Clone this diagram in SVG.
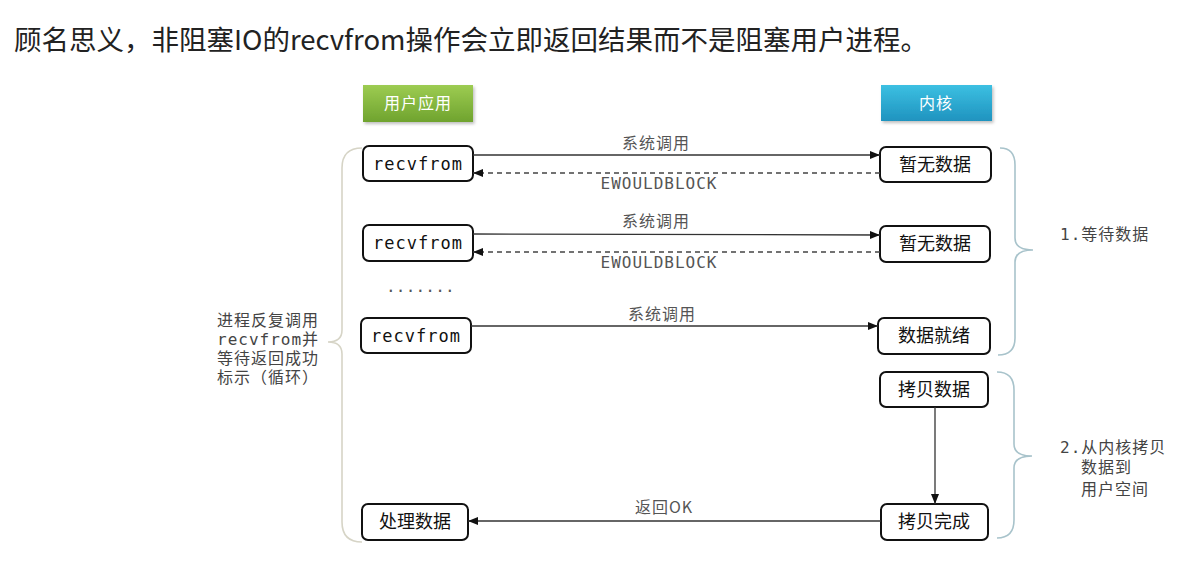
<svg xmlns="http://www.w3.org/2000/svg" width="1194" height="570" viewBox="0 0 1194 570">
<defs>
<linearGradient id="gGreen" x1="0" y1="0" x2="0" y2="1"><stop offset="0" stop-color="#9dcc52"/><stop offset="1" stop-color="#6fa32e"/></linearGradient>
<linearGradient id="gBlue" x1="0" y1="0" x2="0" y2="1"><stop offset="0" stop-color="#3cc0e2"/><stop offset="1" stop-color="#1f93bf"/></linearGradient>
<filter id="sh" x="-10%" y="-20%" width="125%" height="150%"><feDropShadow dx="1.5" dy="2" stdDeviation="1.5" flood-color="#000" flood-opacity="0.25"/></filter>
<marker id="ah" viewBox="0 0 10 10" refX="10" refY="5" markerWidth="10" markerHeight="10" markerUnits="userSpaceOnUse" orient="auto"><path d="M0,1 L10,5 L0,9 z" fill="#111"/></marker>
</defs>
<style>
.title{font-family:"Noto Sans CJK SC","Noto Sans",sans-serif;font-size:27.5px;fill:#222}
.hdr{font-family:"Noto Sans CJK SC",sans-serif;font-size:16px;fill:#fff;text-anchor:middle;letter-spacing:1px}
.box{fill:#fff;stroke:#111;stroke-width:2}
.mono{font-family:"DejaVu Sans Mono","Noto Sans CJK SC",monospace}
.cjk{font-family:"Noto Sans CJK SC",sans-serif}
.bt{font-size:18px;fill:#111;text-anchor:middle}
.rt{font-size:17px;fill:#111;text-anchor:middle;letter-spacing:1px}
.lbl{font-size:16px;fill:#555;text-anchor:middle;letter-spacing:1px}
.side{font-size:16px;fill:#444;letter-spacing:1px}
.ln{stroke:#333;stroke-width:1.3;fill:none}
.dash{stroke:#444;stroke-width:1.3;fill:none;stroke-dasharray:5 4}
.bl{stroke:#d6d4c6;stroke-width:1.6;fill:none}
.br{stroke:#a8c3cb;stroke-width:1.6;fill:none}
</style>
<rect width="1194" height="570" fill="#fff"/>
<text class="title" x="14" y="50">顾名思义，非阻塞IO的recvfrom操作会立即返回结果而不是阻塞用户进程。</text>

<g id="hdr-user"><rect x="363" y="85" width="110" height="37" fill="url(#gGreen)" filter="url(#sh)"/><text class="hdr" x="418" y="109">用户应用</text></g>
<g id="hdr-kernel"><rect x="881" y="85" width="111" height="36" fill="url(#gBlue)" filter="url(#sh)"/><text class="hdr" x="936" y="109">内核</text></g>

<g id="braces">
<path class="bl" d="M362,148 Q342,148 342,168 L342,330 Q342,342 328,342 Q342,342 342,354 L342,522 Q342,542 362,542"/>
<path class="br" d="M1000,148 Q1015,148 1015,165 L1015,238 Q1015,250 1033,250 Q1015,250 1015,262 L1015,338 Q1015,355 998,355"/>
<path class="br" d="M997,372 Q1014,372 1014,390 L1014,444 Q1014,456 1032,456 Q1014,456 1014,468 L1014,520 Q1014,538 997,538"/>
</g>

<g id="n-recv1"><rect class="box" x="363" y="146" width="110" height="35" rx="6"/><text class="mono rt" x="418" y="170">recvfrom</text></g>
<g id="n-recv2"><rect class="box" x="363" y="225" width="110" height="36" rx="6"/><text class="mono rt" x="418" y="249">recvfrom</text></g>
<g id="n-dots"><text class="mono" x="386" y="292" font-size="16" fill="#555" letter-spacing="0.2">.......</text></g>
<g id="n-recv3"><rect class="box" x="361" y="318" width="110" height="35" rx="6"/><text class="mono rt" x="416" y="342">recvfrom</text></g>
<g id="n-proc"><rect class="box" x="362" y="504" width="106" height="36" rx="6"/><text class="cjk bt" x="415" y="528">处理数据</text></g>

<g id="n-k1"><rect class="box" x="880" y="147" width="111" height="35" rx="6"/><text class="cjk bt" x="935" y="171">暂无数据</text></g>
<g id="n-k2"><rect class="box" x="880" y="226" width="110" height="36" rx="6"/><text class="cjk bt" x="935" y="250">暂无数据</text></g>
<g id="n-k3"><rect class="box" x="878" y="318" width="112" height="36" rx="6"/><text class="cjk bt" x="934" y="342">数据就绪</text></g>
<g id="n-copy"><rect class="box" x="880" y="372" width="108" height="35" rx="6"/><text class="cjk bt" x="934" y="396">拷贝数据</text></g>
<g id="n-done"><rect class="box" x="881" y="504" width="107" height="36" rx="6"/><text class="cjk bt" x="934" y="528">拷贝完成</text></g>

<g id="connectors">
<line class="ln" x1="473" y1="155" x2="880" y2="155" marker-end="url(#ah)"/>
<line class="dash" x1="880" y1="173" x2="473" y2="173" marker-end="url(#ah)"/>
<line class="ln" x1="473" y1="234" x2="880" y2="235" marker-end="url(#ah)"/>
<line class="dash" x1="880" y1="252" x2="473" y2="252" marker-end="url(#ah)"/>
<line class="ln" x1="471" y1="326" x2="878" y2="326" marker-end="url(#ah)"/>
<line class="ln" x1="935" y1="407" x2="935" y2="504" marker-end="url(#ah)"/>
<line class="ln" x1="881" y1="521" x2="468" y2="521" marker-end="url(#ah)"/>
<text class="cjk lbl" x="656" y="149">系统调用</text>
<text class="mono lbl" x="659" y="189">EWOULDBLOCK</text>
<text class="cjk lbl" x="656" y="227">系统调用</text>
<text class="mono lbl" x="659" y="268">EWOULDBLOCK</text>
<text class="cjk lbl" x="662" y="320">系统调用</text>
<text class="cjk lbl" x="664" y="513">返回OK</text>
</g>

<g id="side-left" class="mono side">
<text x="217" y="326">进程反复调用</text>
<text x="217" y="345">recvfrom并</text>
<text x="217" y="364">等待返回成功</text>
<text x="217" y="383">标示（循环）</text>
</g>
<g id="side-right" class="mono side">
<text x="1060" y="240">1.等待数据</text>
<text x="1060" y="453">2.从内核拷贝</text>
<text x="1081" y="473">数据到</text>
<text x="1081" y="495">用户空间</text>
</g>
</svg>
